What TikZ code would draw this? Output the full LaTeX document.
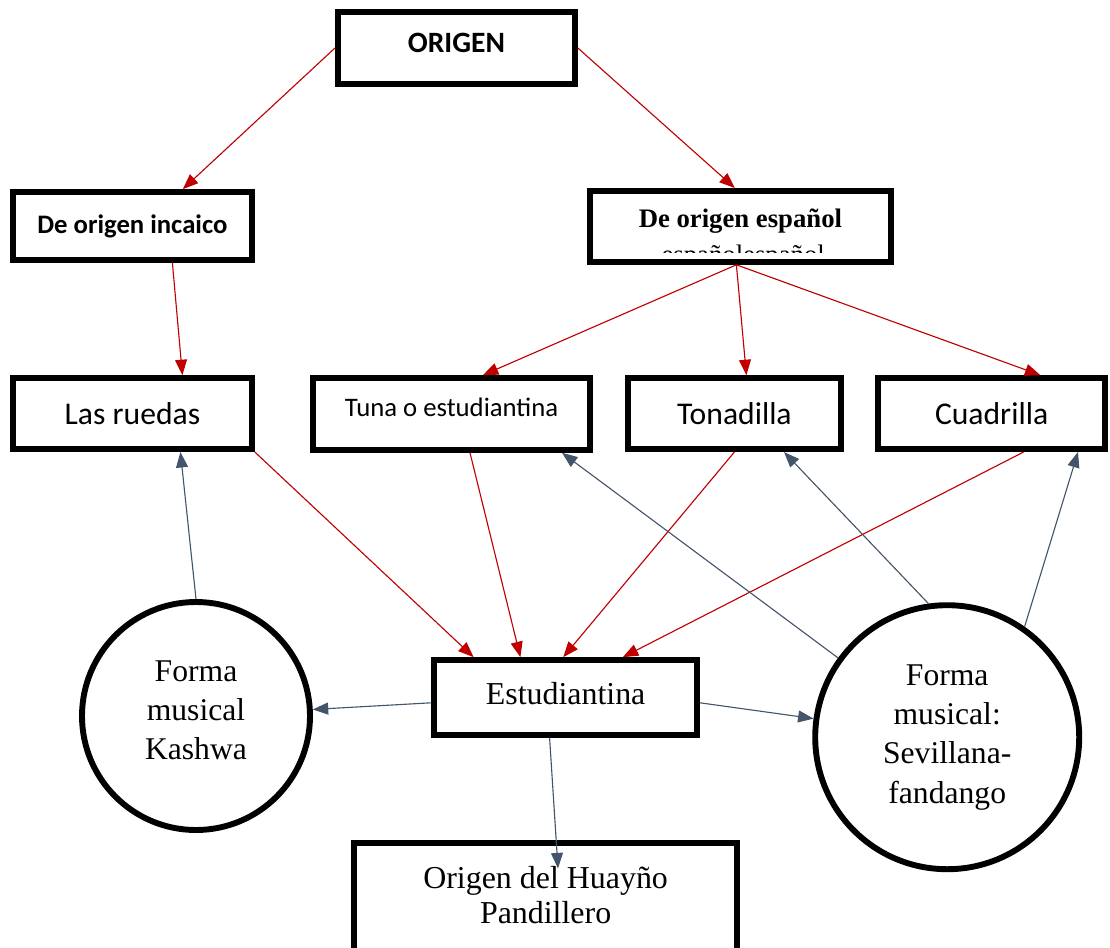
\documentclass[tikz,border=0pt]{standalone}
\usepackage{fontspec}
\setmainfont{Liberation Serif}
\newfontfamily\calibri{Carlito}
\usepackage{tikz}
\usetikzlibrary{arrows.meta}

\definecolor{redline}{HTML}{C00000}
\definecolor{slateline}{HTML}{44546A}

\begin{document}
\begin{tikzpicture}[
    box/.style={rectangle, draw, line width=4pt, align=center, inner sep=2pt},
    bubble/.style={circle, draw, line width=4.2pt, align=center, inner sep=0pt, font=\fontsize{22.5}{28}\selectfont},
    sanstext/.style={font=\calibri\fontsize{22.5}{27}\selectfont},
    serftext/.style={font=\fontsize{22.7}{25}\selectfont},
    redarrow/.style={color=redline, line width=0.8pt, -{Triangle[length=11pt, width=8.5pt]}},
    greyarrow/.style={color=slateline, line width=0.8pt, -{Triangle[length=11pt, width=8.5pt]}}
]
    \useasboundingbox (0,0) rectangle (27.75,-23.675);

    % top
    \node[box, minimum width=5.93cm, minimum height=1.8cm, font=\calibri\bfseries\fontsize{21}{25}\selectfont, text depth=0.25cm] (origen) at (11.41,-1.20) {ORIGEN};
    \node[box, minimum width=5.98cm, minimum height=1.7cm, font=\calibri\bfseries\fontsize{19}{23}\selectfont] (incaico) at (3.31,-5.65) {De origen incaico};
    \node[box, minimum width=7.53cm, minimum height=1.78cm, font=\bfseries\fontsize{19}{23}\selectfont, text depth=0.4cm] (espanol) at (18.51,-5.66) {De origen español};
    \begin{scope}
        \clip ([yshift=0.32cm]espanol.south west) rectangle (espanol.north east);
        \node[font=\fontsize{19}{23}\selectfont, anchor=base] (espanol-extra) at (18.58,-6.58) {españolespañol};
    \end{scope}

    % middle row
    \node[box, sanstext, minimum width=5.98cm, minimum height=1.78cm] (ruedas) at (3.31,-10.34) {Las ruedas};
    \node[box, minimum width=6.93cm, minimum height=1.8cm, font=\calibri\fontsize{19}{23}\selectfont, text depth=0.35cm] (tuna) at (11.29,-10.35) {Tuna o estudiantina};
    \node[box, sanstext, minimum width=5.33cm, minimum height=1.78cm] (tonadilla) at (18.36,-10.34) {Tonadilla};
    \node[box, sanstext, minimum width=5.68cm, minimum height=1.78cm] (cuadrilla) at (24.79,-10.34) {Cuadrilla};

    % bottom
    \node[box, serftext, minimum width=6.58cm, minimum height=1.88cm, text depth=0.22cm] (estudiantina) at (14.14,-17.44) {Estudiantina};
    \node[box, serftext, minimum width=9.58cm, minimum height=2.8cm, text depth=0.2cm] (huayno) at (13.64,-22.48) {Origen del Huayño\\Pandillero};
    \node[bubble, minimum size=5.70cm, text depth=0.3cm] (kashwa) at (4.90,-17.90) {Forma\\musical\\Kashwa};
    \node[bubble, minimum size=6.60cm] (sevillana) at (23.68,-18.43) {Forma\\musical:\\Sevillana-\\fandango};
    \coordinate (huayno-tip) at ([xshift=0.31cm, yshift=-0.7cm]huayno.north);
    \coordinate (espanol-out) at ([xshift=-0.1cm]espanol.south);

    % red arrows
    \draw[redarrow] (origen.west) -- ([xshift=1.26cm]incaico.north);
    \draw[redarrow] (origen.east) -- ([xshift=-0.14cm]espanol.north);
    \draw[redarrow] ([xshift=1.0cm]incaico.south) -- ([xshift=1.25cm]ruedas.north);
    \draw[redarrow] (espanol-out) -- ([xshift=0.78cm]tuna.north);
    \draw[redarrow] (espanol-out) -- ([xshift=0.3cm]tonadilla.north);
    \draw[redarrow] (espanol-out) -- ([xshift=1.22cm]cuadrilla.north);
    \draw[redarrow] (ruedas.south east) -- ([xshift=-2.3cm]estudiantina.north);
    \draw[redarrow] ([xshift=0.46cm]tuna.south) -- ([xshift=-1.13cm]estudiantina.north);
    \draw[redarrow] (tonadilla.south) -- ([xshift=-0.06cm]estudiantina.north);
    \draw[redarrow] ([xshift=0.8cm]cuadrilla.south) -- ([xshift=1.43cm]estudiantina.north);

    % grey arrows
    \draw[greyarrow] (kashwa.north) -- ([xshift=1.2cm]ruedas.south);
    \draw[greyarrow] (sevillana.144) -- ([xshift=2.76cm]tuna.south);
    \draw[greyarrow] (sevillana.98) -- ([xshift=1.24cm]tonadilla.south);
    \draw[greyarrow] (sevillana.55) -- ([xshift=2.16cm]cuadrilla.south);
    \draw[greyarrow] ([yshift=-0.13cm]estudiantina.west) -- (kashwa);
    \draw[greyarrow] ([yshift=-0.13cm]estudiantina.east) -- (sevillana);
    \draw[greyarrow] ([xshift=-0.4cm]estudiantina.south) -- (huayno-tip);
\end{tikzpicture}
\end{document}
